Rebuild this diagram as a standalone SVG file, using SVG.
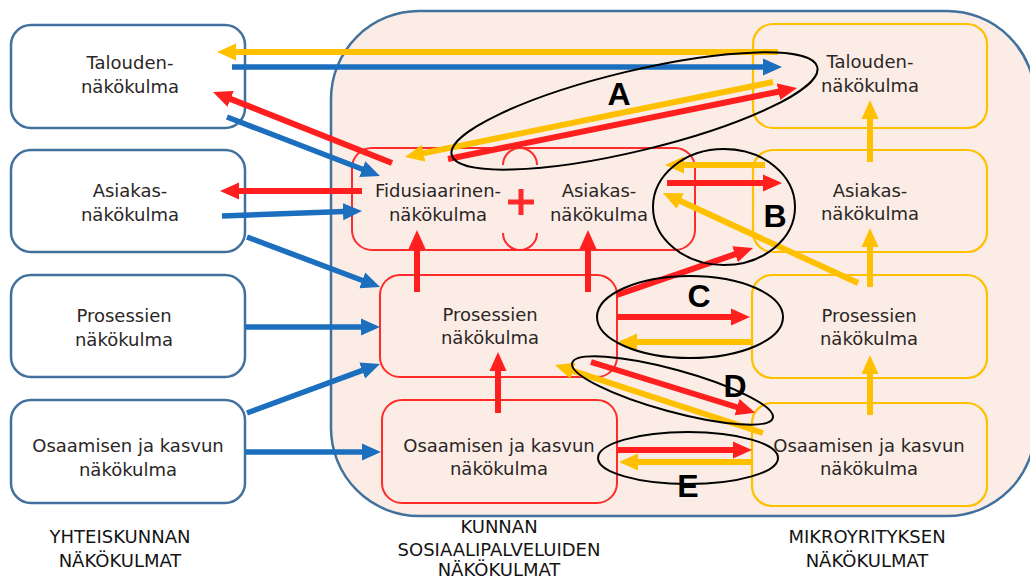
<svg xmlns="http://www.w3.org/2000/svg" width="1030" height="582" viewBox="0 0 1030 582">
  <defs>
    <marker id="ah-blue" markerUnits="userSpaceOnUse" markerWidth="20" markerHeight="20" viewBox="0 -10 20 20" refX="1" refY="0" orient="auto">
      <path d="M0,-8.5 L19,0 L0,8.5 z" fill="#1B6FBE"/>
    </marker>
    <marker id="ah-red" markerUnits="userSpaceOnUse" markerWidth="20" markerHeight="20" viewBox="0 -10 20 20" refX="1" refY="0" orient="auto">
      <path d="M0,-8.5 L19,0 L0,8.5 z" fill="#FF1F1F"/>
    </marker>
    <marker id="ah-gold" markerUnits="userSpaceOnUse" markerWidth="20" markerHeight="20" viewBox="0 -10 20 20" refX="1" refY="0" orient="auto">
      <path d="M0,-8.5 L19,0 L0,8.5 z" fill="#FFC000"/>
    </marker>
    <style>
      .box-soc { fill: #FFFFFF; stroke: #41719C; stroke-width: 2.5; }
      .box-mun { fill: none; stroke: #FF2A2A; stroke-width: 2; }
      .box-mic { fill: none; stroke: #FFC000; stroke-width: 2.2; }
      .t { font-family: "DejaVu Sans", "Open Sans", sans-serif; font-size: 18px; fill: #2B2626; text-anchor: middle; }
      .cap { font-family: "DejaVu Sans", "Open Sans", sans-serif; font-size: 18px; fill: #141414; text-anchor: middle; }
      .tag { font-family: "Liberation Sans", Arial, sans-serif; font-size: 32px; font-weight: bold; fill: #000000; text-anchor: middle; }
      .blue { stroke: #1B6FBE; stroke-width: 5.5; fill: none; marker-end: url(#ah-blue); }
      .red { stroke: #FF1F1F; stroke-width: 6; fill: none; marker-end: url(#ah-red); }
      .gold { stroke: #FFC000; stroke-width: 6; fill: none; marker-end: url(#ah-gold); }
      .ring { fill: none; stroke: #000000; stroke-width: 2; }
    </style>
  </defs>

  <rect width="1030" height="582" fill="#FFFFFF"/>

  <!-- municipal + micro-enterprise area -->
  <g id="container">
    <rect x="331" y="11" width="704" height="505" rx="88" ry="88" fill="#FBEDE5" stroke="#41719C" stroke-width="2.5"/>
  </g>

  <!-- society perspectives (left column) -->
  <g id="soc-talous">
    <rect class="box-soc" x="11" y="25" width="234" height="103" rx="20"/>
    <text class="t" x="130" y="69">Talouden-</text>
    <text class="t" x="130" y="93">näkökulma</text>
  </g>
  <g id="soc-asiakas">
    <rect class="box-soc" x="11" y="150" width="234" height="102" rx="20"/>
    <text class="t" x="130" y="197">Asiakas-</text>
    <text class="t" x="130" y="221">näkökulma</text>
  </g>
  <g id="soc-prosessi">
    <rect class="box-soc" x="11" y="275" width="234" height="102" rx="20"/>
    <text class="t" x="124" y="322">Prosessien</text>
    <text class="t" x="124" y="346">näkökulma</text>
  </g>
  <g id="soc-osaaminen">
    <rect class="box-soc" x="11" y="400" width="234" height="103" rx="20"/>
    <text class="t" x="128" y="452">Osaamisen ja kasvun</text>
    <text class="t" x="128" y="476">näkökulma</text>
  </g>

  <!-- municipal social services perspectives (middle column) -->
  <g id="mun-fidu-asiakas">
    <rect class="box-mun" x="352" y="148" width="343" height="102" rx="20"/>
    <path d="M503,165 A17,17 0 0 1 537,165" fill="none" stroke="#FF2A2A" stroke-width="2"/>
    <path d="M503,233 A17,17 0 0 0 537,233" fill="none" stroke="#FF2A2A" stroke-width="2"/>
    <path d="M508,202 H534 M521,189 V215" stroke="#FF2A2A" stroke-width="5" fill="none"/>
    <text class="t" x="438" y="197">Fidusiaarinen-</text>
    <text class="t" x="438" y="221">näkökulma</text>
    <text class="t" x="599" y="197">Asiakas-</text>
    <text class="t" x="599" y="221">näkökulma</text>
  </g>
  <g id="mun-prosessi">
    <rect class="box-mun" x="380" y="275" width="237" height="102" rx="20"/>
    <text class="t" x="490" y="321">Prosessien</text>
    <text class="t" x="490" y="344">näkökulma</text>
  </g>
  <g id="mun-osaaminen">
    <rect class="box-mun" x="382" y="400" width="235" height="103" rx="20"/>
    <text class="t" x="499" y="452">Osaamisen ja kasvun</text>
    <text class="t" x="499" y="475">näkökulma</text>
  </g>

  <!-- micro-enterprise perspectives (right column) -->
  <g id="mic-talous">
    <rect class="box-mic" x="753" y="24" width="234" height="104" rx="20"/>
    <text class="t" x="870" y="68">Talouden-</text>
    <text class="t" x="870" y="92">näkökulma</text>
  </g>
  <g id="mic-asiakas">
    <rect class="box-mic" x="753" y="150" width="234" height="102" rx="20"/>
    <text class="t" x="870" y="197">Asiakas-</text>
    <text class="t" x="870" y="220">näkökulma</text>
  </g>
  <g id="mic-prosessi">
    <rect class="box-mic" x="752" y="275" width="235" height="103" rx="20"/>
    <text class="t" x="869" y="322">Prosessien</text>
    <text class="t" x="869" y="345">näkökulma</text>
  </g>
  <g id="mic-osaaminen">
    <rect class="box-mic" x="752" y="403" width="235" height="103" rx="20"/>
    <text class="t" x="869" y="452">Osaamisen ja kasvun</text>
    <text class="t" x="869" y="475">näkökulma</text>
  </g>

  <!-- connectors -->
  <g id="connectors">
    <!-- society -> municipality / micro -->
    <line class="blue" x1="232" y1="67" x2="764" y2="67"/>
    <line class="blue" x1="227" y1="117" x2="363.2" y2="169.5"/>
    <line class="blue" x1="222" y1="216" x2="344" y2="211.6"/>
    <line class="blue" x1="247" y1="237" x2="363.2" y2="280.7"/>
    <line class="blue" x1="245" y1="327" x2="362" y2="327"/>
    <line class="blue" x1="247" y1="413" x2="363.1" y2="370.2"/>
    <line class="blue" x1="245" y1="452" x2="363" y2="452"/>

    <!-- municipality outputs -->
    <line class="red" x1="392" y1="163" x2="229.7" y2="98.6"/>
    <line class="red" x1="362" y1="191" x2="238" y2="191"/>
    <line class="red" x1="448" y1="159" x2="779.4" y2="91.5"/>
    <line class="red" x1="417" y1="292" x2="417" y2="248"/>
    <line class="red" x1="588" y1="292" x2="588" y2="248"/>
    <line class="red" x1="498" y1="413" x2="498" y2="370"/>
    <line class="red" x1="667" y1="183" x2="764" y2="183"/>
    <line class="red" x1="617" y1="295" x2="736" y2="253.9"/>
    <line class="red" x1="617" y1="317" x2="732" y2="317"/>
    <line class="red" x1="591" y1="362" x2="738" y2="407.5"/>
    <line class="red" x1="617" y1="450" x2="734" y2="450"/>

    <!-- micro-enterprise outputs -->
    <line class="gold" x1="778" y1="52" x2="235" y2="52"/>
    <line class="gold" x1="773" y1="82" x2="422.6" y2="153.4"/>
    <line class="gold" x1="765" y1="165" x2="683" y2="165"/>
    <line class="gold" x1="858" y1="283" x2="679.3" y2="200.5"/>
    <line class="gold" x1="752" y1="342" x2="636" y2="342"/>
    <line class="gold" x1="763" y1="433" x2="572.1" y2="370.6"/>
    <line class="gold" x1="752" y1="462" x2="637" y2="462"/>
    <line class="gold" x1="870" y1="162" x2="870" y2="118"/>
    <line class="gold" x1="870" y1="287" x2="870" y2="246"/>
    <line class="gold" x1="870" y1="415" x2="870" y2="373"/>
  </g>

  <!-- highlighted interaction areas -->
  <g id="areas">
    <ellipse class="ring" cx="634.5" cy="111" rx="188" ry="40" transform="rotate(-13.5 634.5 111)"/>
    <ellipse class="ring" cx="724" cy="207" rx="71" ry="58"/>
    <ellipse class="ring" cx="690" cy="317" rx="93" ry="41"/>
    <ellipse class="ring" cx="672.5" cy="390.5" rx="104" ry="21" transform="rotate(15.3 672.5 390.5)"/>
    <ellipse class="ring" cx="688" cy="458" rx="90" ry="26"/>
    <text class="tag" x="619" y="105">A</text>
    <text class="tag" x="775" y="227">B</text>
    <text class="tag" x="699" y="307">C</text>
    <text class="tag" x="735" y="397">D</text>
    <text class="tag" x="688" y="497">E</text>
  </g>

  <!-- column captions -->
  <g id="captions">
    <text class="cap" x="120" y="543">YHTEISKUNNAN</text>
    <text class="cap" x="120" y="567">NÄKÖKULMAT</text>
    <text class="cap" x="499" y="533">KUNNAN</text>
    <text class="cap" x="499" y="556">SOSIAALIPALVELUIDEN</text>
    <text class="cap" x="499" y="576">NÄKÖKULMAT</text>
    <text class="cap" x="867" y="543">MIKROYRITYKSEN</text>
    <text class="cap" x="867" y="567">NÄKÖKULMAT</text>
  </g>
</svg>
